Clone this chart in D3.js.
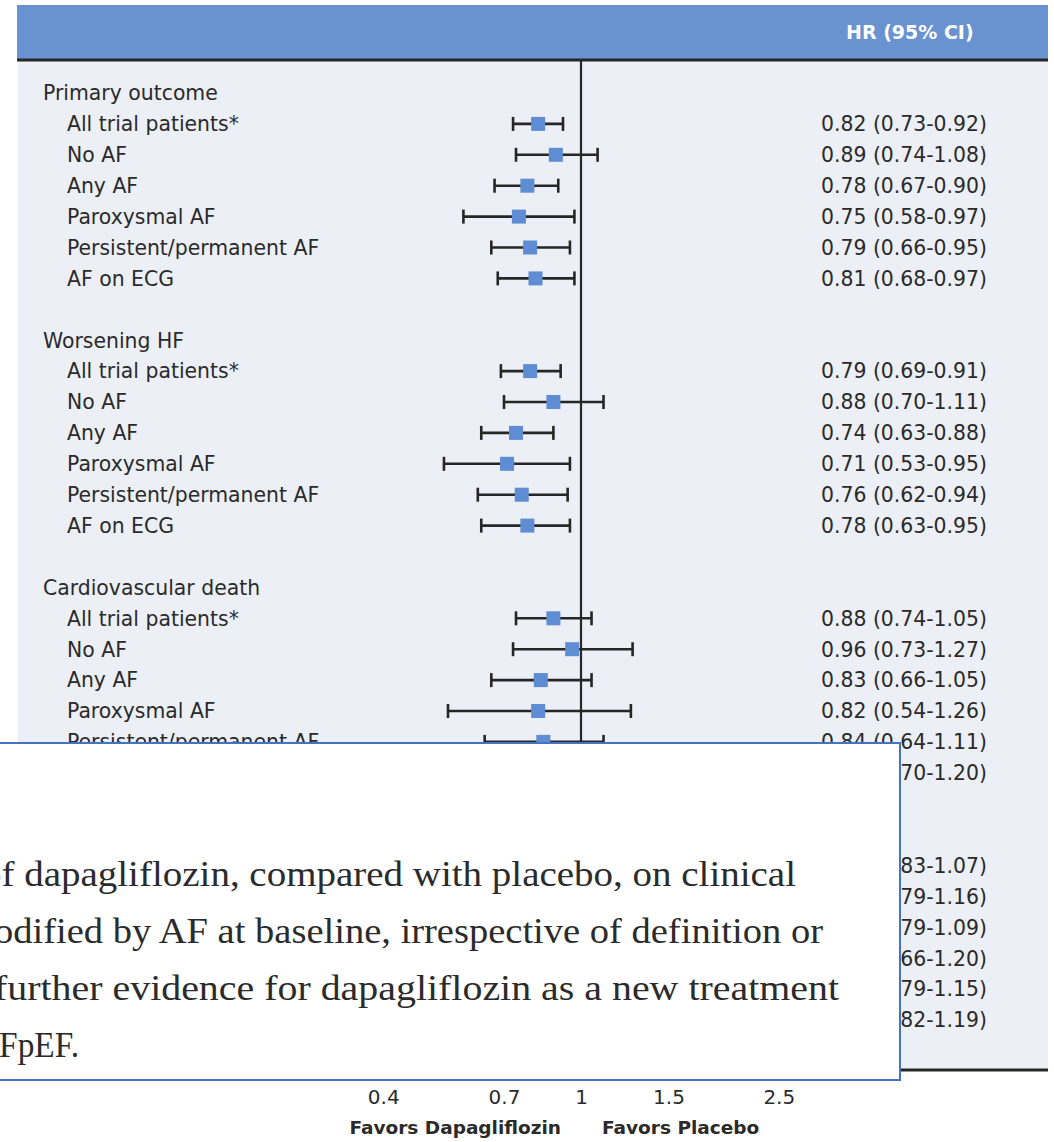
<!DOCTYPE html>
<html>
<head>
<meta charset="utf-8">
<script src="https://cdn.jsdelivr.net/npm/d3@7"></script>
<style>
  body { margin: 0; background: #fff; }
  svg { display: block; }
</style>
</head>
<body>
<div id="forest"></div>
<script>

var groups = ["Primary outcome", "Worsening HF", "Cardiovascular death", "All-cause death"];
var subgroups = ["All trial patients*", "No AF", "Any AF", "Paroxysmal AF", "Persistent/permanent AF", "AF on ECG"];

// hazard ratios, one row per group
var hr = [
  [0.82, 0.89, 0.78, 0.75, 0.79, 0.81],
  [0.79, 0.88, 0.74, 0.71, 0.76, 0.78],
  [0.88, 0.96, 0.83, 0.82, 0.84, 0.92],
  [0.94, 0.96, 0.93, 0.89, 0.95, 0.99]
];
var lower = [
  [0.73, 0.74, 0.67, 0.58, 0.66, 0.68],
  [0.69, 0.70, 0.63, 0.53, 0.62, 0.63],
  [0.74, 0.73, 0.66, 0.54, 0.64, 0.70],
  [0.83, 0.79, 0.79, 0.66, 0.79, 0.82]
];
var upper = [
  [0.92, 1.08, 0.90, 0.97, 0.95, 0.97],
  [0.91, 1.11, 0.88, 0.95, 0.94, 0.95],
  [1.05, 1.27, 1.05, 1.26, 1.11, 1.20],
  [1.07, 1.16, 1.09, 1.20, 1.15, 1.19]
];

var tickValues = [0.4, 0.7, 1, 1.5, 2.5];

// text of the pop-up box laid over the figure (cut at the left edge)
var noteLines = [
  "of dapagliflozin, compared with placebo, on clinical",
  "modified by AF at baseline, irrespective of definition or",
  "further evidence for dapagliflozin as a new treatment",
  "HFpEF."
];

var svgW = 1054;
var svgH = 1142;

var panel = { left: 18, right: 1048, top: 5, head: 59, bottom: 1070 };

var svg = d3.select("#forest")
  .append("svg")
  .attr("width", svgW)
  .attr("height", svgH);

// one slot per line; a group takes a header, six rows and one blank slot
var rows = [];
groups.forEach(function(g, gi) {
  rows.push({ type: "group", label: g, slot: gi * 8 });
  subgroups.forEach(function(s, si) {
    rows.push({
      type: "row",
      label: s,
      slot: gi * 8 + si + 1,
      hr: hr[gi][si],
      lo: lower[gi][si],
      hi: upper[gi][si]
    });
  });
});

var y = d3.scaleLinear()
  .domain([0, 30])
  .range([93, 1020]);

var x = d3.scaleLog()
  .domain([0.4, 2.5])
  .range([383.2, 778.8]);

// backgrounds
svg.append("rect")
  .attr("x", panel.left)
  .attr("y", panel.head)
  .attr("width", panel.right - panel.left)
  .attr("height", panel.bottom - panel.head)
  .attr("fill", "#eceff6");

svg.append("rect")
  .attr("x", panel.left - 1)
  .attr("y", panel.top)
  .attr("width", panel.right - panel.left + 1)
  .attr("height", panel.head - panel.top)
  .attr("fill", "#6992d0");

svg.append("text")
  .attr("x", 846)
  .attr("y", 39)
  .attr("fill", "#fff")
  .attr("font-family", "DejaVu Sans")
  .attr("font-weight", "bold")
  .attr("font-size", 19)
  .text("HR (95% CI)");

svg.append("line")
  .attr("x1", panel.left - 1)
  .attr("x2", panel.right)
  .attr("y1", panel.head + 1)
  .attr("y2", panel.head + 1)
  .attr("stroke", "#262626")
  .attr("stroke-width", 3);

// no-effect line
svg.append("line")
  .attr("x1", x(1))
  .attr("x2", x(1))
  .attr("y1", panel.head + 2)
  .attr("y2", panel.bottom)
  .attr("stroke", "#262626")
  .attr("stroke-width", 2.2);

// labels
svg.append("g")
  .selectAll("text")
  .data(rows)
  .enter()
  .append("text")
  .attr("x", d => d.type === "group" ? 43 : 67)
  .attr("y", d => y(d.slot))
  .attr("dy", "0.36em")
  .attr("font-family", "DejaVu Sans")
  .attr("font-size", 20.4)
  .attr("fill", "#2a2a2a")
  .text(d => d.label);

var fmt = d3.format(".2f");
var dataRows = rows.filter(d => d.type === "row");

svg.append("g")
  .selectAll("text")
  .data(dataRows)
  .enter()
  .append("text")
  .attr("x", 821)
  .attr("y", d => y(d.slot))
  .attr("dy", "0.36em")
  .attr("font-family", "DejaVu Sans")
  .attr("font-size", 20.4)
  .attr("fill", "#2a2a2a")
  .text(d => `${fmt(d.hr)} (${fmt(d.lo)}-${fmt(d.hi)})`);

// confidence intervals
var ci = svg.append("g")
  .selectAll("g")
  .data(dataRows)
  .enter()
  .append("g")
  .attr("stroke", "#262626")
  .attr("stroke-width", 2.6);

ci.append("line")
  .attr("x1", d => x(d.lo))
  .attr("x2", d => x(d.hi))
  .attr("y1", d => y(d.slot))
  .attr("y2", d => y(d.slot));

ci.append("line")
  .attr("x1", d => x(d.lo))
  .attr("x2", d => x(d.lo))
  .attr("y1", d => y(d.slot) - 7)
  .attr("y2", d => y(d.slot) + 7);

ci.append("line")
  .attr("x1", d => x(d.hi))
  .attr("x2", d => x(d.hi))
  .attr("y1", d => y(d.slot) - 7)
  .attr("y2", d => y(d.slot) + 7);

svg.append("g")
  .selectAll("rect")
  .data(dataRows)
  .enter()
  .append("rect")
  .attr("x", d => x(d.hr) - 7)
  .attr("y", d => y(d.slot) - 7)
  .attr("width", 14)
  .attr("height", 14)
  .attr("fill", "#5f8dd3");

// bottom axis
svg.append("line")
  .attr("x1", panel.left - 1)
  .attr("x2", panel.right)
  .attr("y1", panel.bottom)
  .attr("y2", panel.bottom)
  .attr("stroke", "#262626")
  .attr("stroke-width", 3);

var bottomAxis = d3.axisBottom(x)
  .tickValues(tickValues)
  .tickFormat(d3.format("~g"))
  .tickSize(6)
  .tickPadding(14);

var xAxis = svg.append("g")
  .attr("transform", `translate(0, ${panel.bottom})`)
  .call(bottomAxis);

xAxis.select(".domain").remove();
xAxis.selectAll("line").attr("stroke", "#262626");
xAxis.selectAll("text")
  .attr("font-family", "DejaVu Sans")
  .attr("font-size", 20)
  .attr("fill", "#2a2a2a");

svg.append("text")
  .attr("x", x(1) - 20)
  .attr("y", 1134)
  .attr("text-anchor", "end")
  .attr("font-family", "DejaVu Sans")
  .attr("font-weight", "bold")
  .attr("font-size", 18.5)
  .attr("fill", "#2a2a2a")
  .text("Favors Dapagliflozin");

svg.append("text")
  .attr("x", x(1) + 21)
  .attr("y", 1134)
  .attr("font-family", "DejaVu Sans")
  .attr("font-weight", "bold")
  .attr("font-size", 18.5)
  .attr("fill", "#2a2a2a")
  .text("Favors Placebo");

// pop-up box laid over the lower part
var note = svg.append("g");

note.append("rect")
  .attr("x", -4)
  .attr("y", 743)
  .attr("width", 904)
  .attr("height", 337)
  .attr("fill", "#fff")
  .attr("stroke", "#4472c4")
  .attr("stroke-width", 2);

var noteX = [-18, -36, -6, -25];
var noteEnd = [796, 823, 839, 79];

note.selectAll("text")
  .data(noteLines)
  .enter()
  .append("text")
  .attr("x", (d, i) => noteX[i])
  .attr("y", (d, i) => 886 + i * 57)
  .attr("textLength", (d, i) => noteEnd[i] - noteX[i])
  .attr("lengthAdjust", "spacingAndGlyphs")
  .attr("font-family", "Liberation Serif")
  .attr("font-size", 36)
  .attr("fill", "#2b2b2b")
  .text(d => d);

</script>
</body>
</html>
